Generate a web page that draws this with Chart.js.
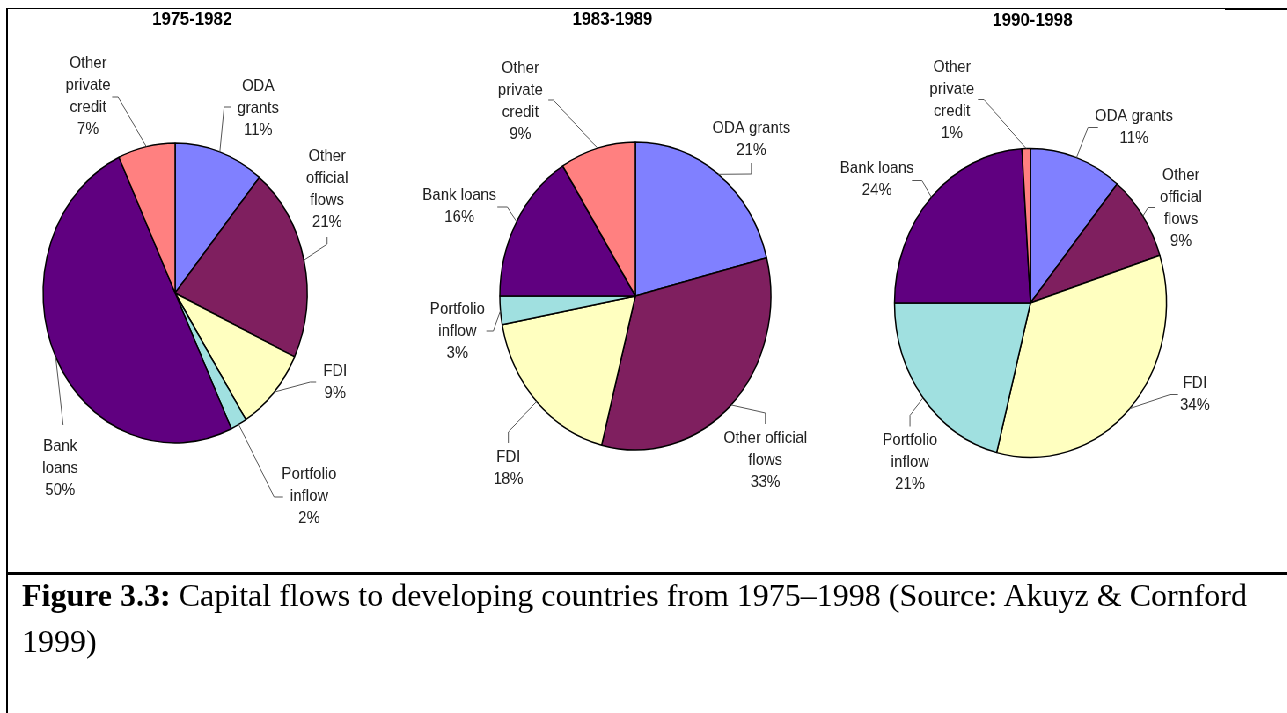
<!DOCTYPE html>
<html>
<head>
<meta charset="utf-8">
<script src="https://cdn.jsdelivr.net/npm/chart.js"></script>
<style>
  html, body { margin: 0; padding: 0; background: #fff; }
  body { width: 1287px; height: 713px; position: relative; overflow: hidden; }
  #stage { position: absolute; left: 0; top: 0; height: 600px; transform-origin: 0 0; }
  #stage canvas { position: absolute; }
  .rule { position: absolute; background: #000; }
  #caption {
    position: absolute; left: 22px; top: 572px; white-space: nowrap;
    font: 32px "Liberation Serif", "Times New Roman", serif;
    line-height: 46px; color: #000;
  }
</style>
</head>
<body>
<div id="stage">
  <canvas id="pie1975" width="540" height="600"></canvas>
  <canvas id="pie1983" width="540" height="600"></canvas>
  <canvas id="pie1990" width="540" height="600"></canvas>
</div>
<div class="rule" style="left:6px;top:8px;width:2px;height:705px"></div>
<div class="rule" style="left:7px;top:8px;width:1218px;height:1px"></div>
<div class="rule" style="left:1225px;top:8px;width:62px;height:2px"></div>
<div class="rule" style="left:7px;top:572px;width:1280px;height:3px"></div>
<div id="caption"><b>Figure 3.3:</b> Capital flows to developing countries from 1975&ndash;1998 (Source: Akuyz &amp; Cornford<br>1999)</div>

<script>
// ---- data (percent shares)
const categories  = ['ODA grants', 'Other official flows', 'FDI', 'Portfolio inflow', 'Bank loans', 'Other private credit'];
const periods     = ['1975-1982', '1983-1989', '1990-1998'];
const shares1975  = [11, 21, 9, 2, 50, 7];
const shares1983  = [21, 33, 18, 3, 16, 9];
const shares1990  = [11, 9, 34, 21, 24, 1];
const sliceColors = ['#8080ff', '#7f1f5f', '#ffffc0', '#a0e0e0', '#600080', '#ff8080'];

// ---- layout
const SX = 0.88;            // the figure is squeezed horizontally
const CW = 540, CH = 600;   // canvas size (unscaled px)

// pie centre on the page, radius; label offsets are page px from the centre
const layouts = [
  {
    id: 'pie1975', centre: [175, 293], radius: 150, titleAt: [17, -273],
    labels: [
      { split: [1, 1],    at: [83, -185],   leader: [[49, -186], [56, -186]] },
      { split: [1, 1, 1], at: [152, -104],  leader: [[152, -49], [152, -56]] },
      { split: [1],       at: [160, 89],    leader: [[135, 89], [141, 89]] },
      { split: [1, 1],    at: [134, 203],   leader: [[99, 204], [108, 204]] },
      { split: [1, 1],    at: [-115, 175],  leader: [[-112, 132]] },
      { split: [1, 1, 1], at: [-87, -196.5], leader: [[-57, -196], [-63, -196]] },
    ]
  },
  {
    id: 'pie1983', centre: [635, 296], radius: 154, titleAt: [-23, -276],
    labels: [
      { split: [2],       at: [116, -156.5], leader: [[116, -122], [116, -133]] },
      { split: [2, 1],    at: [130, 164],    leader: [[130, 117], [130, 128]] },
      { split: [1],       at: [-127, 172],   leader: [[-127, 136], [-127, 147]] },
      { split: [1, 1],    at: [-178, 35],    leader: [[-142, 35], [-149, 35]] },
      { split: [2],       at: [-176, -90],   leader: [[-128, -89], [-138, -89]] },
      { split: [1, 1, 1], at: [-115, -194.5], leader: [[-82, -196], [-87, -196]] },
    ]
  },
  {
    id: 'pie1990', centre: [1030.5, 302.5], radius: 154.5, titleAt: [2, -282.5],
    labels: [
      { split: [2],       at: [103.5, -175.5], leader: [[57.5, -175.5], [67.5, -175.5]] },
      { split: [1, 1, 1], at: [150.5, -94.5],  leader: [[117.5, -95.5], [124.5, -95.5]] },
      { split: [1],       at: [164.5, 91.5],   leader: [[139.5, 91.5], [147.5, 91.5]] },
      { split: [1, 1],    at: [-120.5, 159.5], leader: [[-120.5, 112.5], [-120.5, 123.5]] },
      { split: [2],       at: [-153.5, -123.5], leader: [[-108.5, -122.5], [-118.5, -122.5]] },
      { split: [1, 1, 1], at: [-78.5, -203],   leader: [[-46.5, -203.5], [-52.5, -203.5]] },
    ]
  }
];

// ---- title + outside labels with leader lines
function sliceLabels(title, lay) {
  return {
    id: 'sliceLabels',
    afterDatasetsDraw(chart) {
      const ctx = chart.ctx;
      const meta = chart.getDatasetMeta(0);
      const values = chart.data.datasets[0].data;
      const c = meta.data[0].getProps(['x', 'y'], true);

      ctx.save();
      ctx.textAlign = 'center';
      ctx.textBaseline = 'middle';
      ctx.fillStyle = '#000';
      ctx.font = 'bold 19px "Liberation Sans", Arial, sans-serif';
      ctx.fillText(title, c.x + lay.titleAt[0] / SX, c.y + lay.titleAt[1]);

      meta.data.forEach((arc, i) => {
        const p = arc.getProps(['x', 'y', 'startAngle', 'endAngle', 'outerRadius'], true);
        const mid = (p.startAngle + p.endAngle) / 2;
        const lab = lay.labels[i];

        ctx.beginPath();
        ctx.moveTo(p.x + Math.cos(mid) * p.outerRadius, p.y + Math.sin(mid) * p.outerRadius);
        lab.leader.forEach(([dx, dy]) => ctx.lineTo(p.x + dx / SX, p.y + dy));
        ctx.strokeStyle = '#555';
        ctx.lineWidth = 1;
        ctx.stroke();

        const words = chart.data.labels[i].split(' ');
        const lines = [];
        let k = 0;
        lab.split.forEach(n => { lines.push(words.slice(k, k + n).join(' ')); k += n; });
        lines.push(values[i] + '%');

        ctx.font = '17px "Liberation Sans", Arial, sans-serif';
        ctx.fillStyle = '#222';
        const lh = 22;
        const top = p.y + lab.at[1] - (lines.length - 1) * lh / 2;
        lines.forEach((t, j) => ctx.fillText(t, p.x + lab.at[0] / SX, top + j * lh));
      });
      ctx.restore();
    }
  };
}

const stage = document.getElementById('stage');
stage.style.width = (1287 / SX) + 'px';
stage.style.transform = 'scaleX(' + SX + ')';

[shares1975, shares1983, shares1990].forEach((shares, n) => {
  const lay = layouts[n];
  const canvas = document.getElementById(lay.id);
  canvas.style.left = (lay.centre[0] / SX - CW / 2) + 'px';
  canvas.style.top = (lay.centre[1] - CH / 2) + 'px';

  new Chart(canvas, {
    type: 'pie',
    data: {
      labels: categories,
      datasets: [{
        data: shares,
        backgroundColor: sliceColors,
        borderColor: '#000',
        borderWidth: 1.5,
        hoverOffset: 0,
      }]
    },
    options: {
      responsive: false,
      animation: false,
      events: [],
      radius: lay.radius,
      layout: { padding: 0 },
      plugins: {
        legend: { display: false },
        tooltip: { enabled: false },
        title: { display: false },
      }
    },
    plugins: [sliceLabels(periods[n], lay)]
  });
});
</script>
</body>
</html>
